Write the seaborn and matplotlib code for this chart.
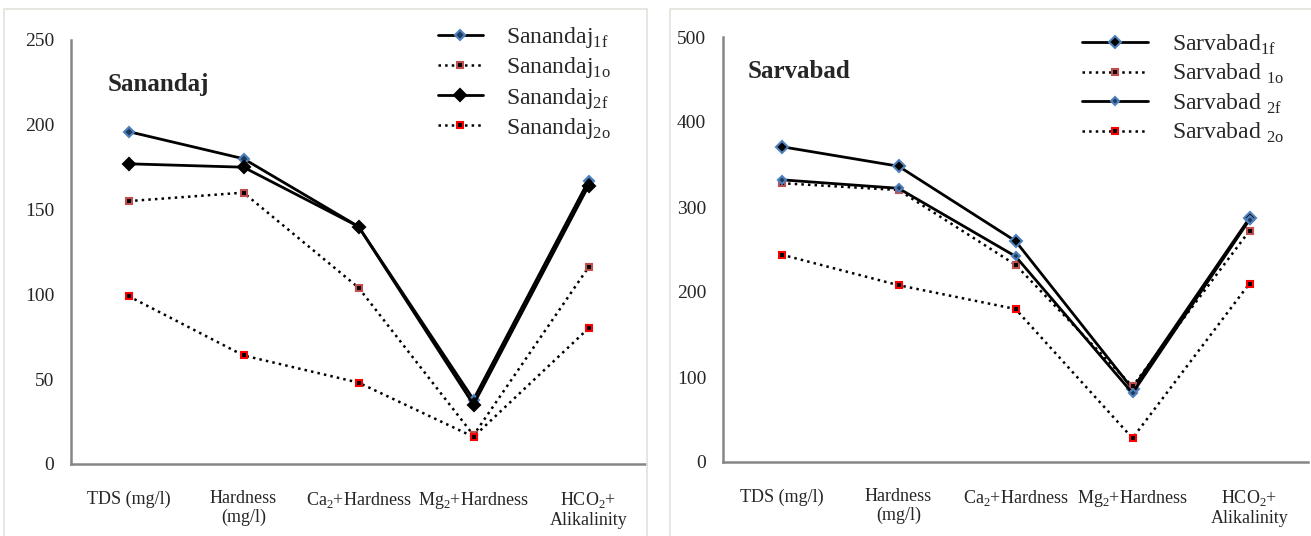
import numpy as np
import pandas as pd
import matplotlib
matplotlib.use("Agg")
import matplotlib.pyplot as plt
import matplotlib.patches as mpatches
import seaborn as sns

# categories on the x axis
categories = ["TDS (mg/l)", "Hardness\n(mg/l)", "Ca$_2$+Hardness",
              "Mg$_2$+Hardness", "HCO$_2$+\nAlikalinity"]

# Sanandaj series
sanandaj_1f = [196, 180, 140, 38, 167]
sanandaj_1o = [155, 160, 104, 17, 116]
sanandaj_2f = [177, 175, 140, 35, 164]
sanandaj_2o = [99, 64, 48, 16, 80]

# Sarvabad series
sarvabad_1f = [371, 348, 260, 86, 287]
sarvabad_1o = [328, 320, 232, 89, 272]
sarvabad_2f = [332, 322, 242, 81, 285]
sarvabad_2o = [244, 208, 180, 28, 210]

sanandaj_labels = ["Sanandaj$_{\\mathregular{1f}}$", "Sanandaj$_{\\mathregular{1o}}$",
                   "Sanandaj$_{\\mathregular{2f}}$", "Sanandaj$_{\\mathregular{2o}}$"]
sarvabad_labels = ["Sarvabad$_{\\mathregular{1f}}$", "Sarvabad $_{\\mathregular{1o}}$",
                   "Sarvabad $_{\\mathregular{2f}}$", "Sarvabad $_{\\mathregular{2o}}$"]

BLUE = "#4F81BD"
BROWN = "#C0504D"
RED = "#FF0000"
GREY = "#868686"

sns.set_theme(style="white")
plt.rcParams["font.family"] = ["Liberation Serif", "DejaVu Serif"]
plt.rcParams["mathtext.fontset"] = "custom"
plt.rcParams["mathtext.rm"] = "Liberation Serif"

# styles: (linestyle, marker, size, face, edge)
sanandaj_styles = [
    ("-", "D", 5, "#1F3B5C", BLUE),
    (":", "s", 5, "black", BROWN),
    ("-", "D", 6, "black", "black"),
    (":", "s", 5, "black", RED),
]
sarvabad_styles = [
    ("-", "D", 6, "black", BLUE),
    (":", "s", 5, "black", BROWN),
    ("-", "D", 4.5, "#1F3B5C", BLUE),
    (":", "s", 4.5, "black", RED),
]


def draw_panel(ax, series, labels, styles, ymax, ystep, title, title_xy,
               legend_anchor, handlelength):
    x = np.arange(len(categories))
    handles = []
    for vals, lab, (ls, mk, ms, fc, ec) in zip(series, labels, styles):
        df = pd.DataFrame({"x": x, "y": vals})
        sns.lineplot(data=df, x="x", y="y", ax=ax, color="black",
                     linestyle=ls, linewidth=2 if ls == "-" else 1.8,
                     marker=mk, markersize=ms, markerfacecolor=fc,
                     markeredgecolor=ec, markeredgewidth=1.5, label=lab,
                     legend=False)
        handles.append(ax.lines[-1])

    ax.set_xlim(-0.5, len(categories) - 0.5)
    ax.set_ylim(0, ymax)
    ax.set_yticks(np.arange(0, ymax + 1, ystep))
    ax.set_xticks(x)
    ax.set_xticklabels(categories, fontsize=13, linespacing=1.1)
    ax.set_xticks(np.arange(-0.5, len(categories)), minor=True)
    ax.tick_params(axis="x", which="major", length=0, pad=19)
    ax.tick_params(axis="x", which="minor", length=6, width=1.5, color=GREY,
                   direction="out")
    ax.tick_params(axis="y", length=6, width=1.5, color=GREY, direction="out",
                   labelsize=14, pad=6)
    ax.set_xlabel("")
    ax.set_ylabel("")
    for s in ["top", "right"]:
        ax.spines[s].set_visible(False)
    for s in ["left", "bottom"]:
        ax.spines[s].set_color(GREY)
        ax.spines[s].set_linewidth(1.8)

    ax.text(title_xy[0], title_xy[1], title, transform=ax.transAxes,
            fontsize=18, fontweight="bold", va="center", ha="left")

    ax.legend(handles=handles, labels=labels, loc="upper left",
              bbox_to_anchor=legend_anchor, frameon=False, fontsize=17,
              handlelength=handlelength, handletextpad=1.0, labelspacing=0.22,
              borderpad=0, borderaxespad=0)


fig = plt.figure(figsize=(13.11, 5.36), dpi=100)

# light panel frames
fig.patches.append(mpatches.Rectangle((4 / 1311, -0.01), 643 / 1311, 1 - 9 / 536 + 0.01,
                                      transform=fig.transFigure, fill=False,
                                      edgecolor="#E4E2DA", linewidth=1.2))
fig.patches.append(mpatches.Rectangle((670 / 1311, -0.01), 0.5, 1 - 9 / 536 + 0.01,
                                      transform=fig.transFigure, fill=False,
                                      edgecolor="#E4E2DA", linewidth=1.2))

ax1 = fig.add_axes([71 / 1311, 72 / 536, 575 / 1311, 424 / 536])
ax2 = fig.add_axes([723 / 1311, 74 / 536, 585 / 1311, 425 / 536])

draw_panel(ax1, [sanandaj_1f, sanandaj_1o, sanandaj_2f, sanandaj_2o],
           sanandaj_labels, sanandaj_styles, 250, 50, "Sanandaj",
           ((108 - 71) / 575, (464 - 85) / 424), ((438 - 71) / 575, 1.035), 1.9)
draw_panel(ax2, [sarvabad_1f, sarvabad_1o, sarvabad_2f, sarvabad_2o],
           sarvabad_labels, sarvabad_styles, 500, 100, "Sarvabad",
           ((748 - 723) / 585, (462 - 72) / 425), ((1082 - 723) / 585, 1.01), 2.8)

fig.savefig("out.png", dpi=100)
